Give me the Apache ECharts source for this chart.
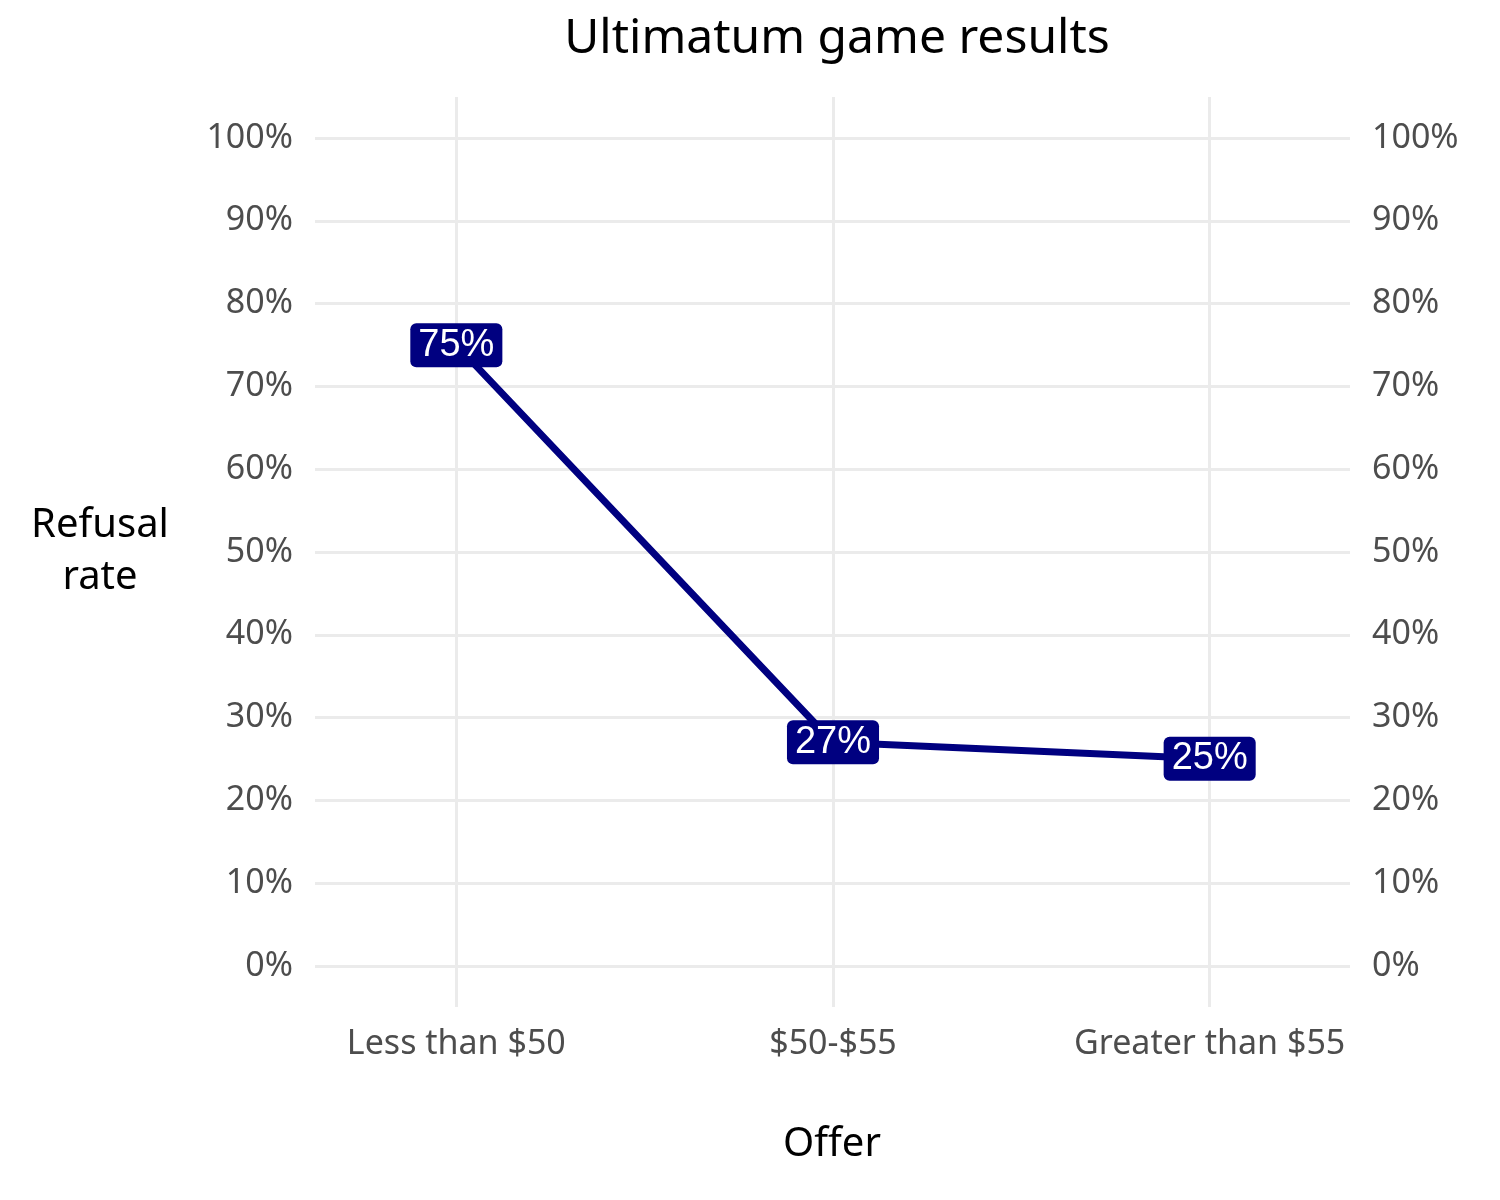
<!DOCTYPE html>
<html><head><meta charset="utf-8">
<script src="https://cdn.jsdelivr.net/npm/echarts@6/dist/echarts.min.js"></script>
<style>html,body{margin:0;padding:0;background:#fff}#c{width:1500px;height:1200px}</style>
</head><body><div id="c"></div>
<script>
const categories = ['Less than $50', '$50-$55', 'Greater than $55'];
const refusal = [0.75, 0.27, 0.25];
const yTicks = [0,0.1,0.2,0.3,0.4,0.5,0.6,0.7,0.8,0.9,1.0];
const font = 'Noto Sans';
const pct = v => Math.round(v*100) + '%';
const chart = echarts.init(document.getElementById('c'));
chart.setOption({
  backgroundColor: '#fff',
  animation: false,
  title: {text: 'Ultimatum game results', left: 832, textAlign: 'center', top: 10,
    textStyle: {fontFamily: font, fontSize: 48, fontWeight: 'normal', color: '#000'}},
  graphic: [
    {type: 'text', x: 100, y: 500, style: {text: 'Refusal\nrate', fontFamily: font, fontSize: 40, fill: '#000', align: 'center', lineHeight: 52}},
    {type: 'text', x: 832, y: 1125, style: {text: 'Offer', fontFamily: font, fontSize: 40, fill: '#000', align: 'center'}}
  ],
  grid: [
    {left: 315, right: 150, top: 138, bottom: 234},
    {left: 268, right: 102, top: 97, bottom: 193}
  ],
  xAxis: [
    {gridIndex: 0, type: 'value', show: false, min: 0, max: 1},
    {gridIndex: 1, type: 'category', data: categories, boundaryGap: true,
      axisLine: {show: false}, axisTick: {show: false}, splitLine: {show: false},
      axisLabel: {fontFamily: font, fontSize: 34, color: '#4d4d4d', margin: 20}}
  ],
  yAxis: [
    {gridIndex: 0, type: 'value', min: 0, max: 1, interval: 0.1, position: 'left',
      axisLine: {show: false}, axisTick: {show: false},
      splitLine: {lineStyle: {color: '#ebebeb', width: 3}},
      axisLabel: {formatter: pct, fontFamily: font, fontSize: 34, color: '#4d4d4d', margin: 22}},
    {gridIndex: 0, type: 'value', min: 0, max: 1, interval: 0.1, position: 'right',
      axisLine: {show: false}, axisTick: {show: false}, splitLine: {show: false},
      axisLabel: {formatter: pct, fontFamily: font, fontSize: 34, color: '#4d4d4d', margin: 22, align: 'left'}},
    {gridIndex: 1, type: 'value', min: -0.05, max: 1.05, show: false, splitLine: {show: false}}
  ],
  series: [{
    type: 'line', xAxisIndex: 1, yAxisIndex: 2, data: refusal,
    symbol: 'circle', symbolSize: 2, showSymbol: true,
    itemStyle: {color: '#000080'},
    lineStyle: {color: '#000080', width: 7},
    label: {show: true, position: 'inside', formatter: p => pct(p.value),
      color: '#fff', fontFamily: 'Liberation Sans', fontSize: 38,
      backgroundColor: '#000080', borderRadius: 6, padding: [4, 8, 2, 8]},
    labelLayout: {hideOverlap: false},
    markLine: {silent: true, symbol: 'none', label: {show: false}, z: 1,
      lineStyle: {color: '#ebebeb', width: 3, type: 'solid'},
      data: categories.map(c => ({xAxis: c}))},
    z: 5
  }]
});
</script></body></html>
